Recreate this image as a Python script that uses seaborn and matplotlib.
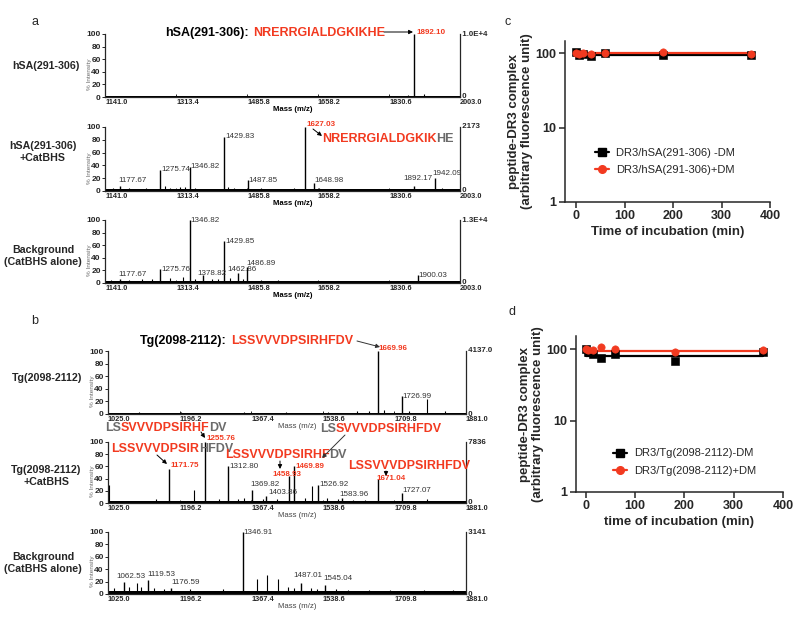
import numpy as np
import pandas as pd
import seaborn as sns
import matplotlib.pyplot as plt
import matplotlib.transforms as mtransforms
from matplotlib.lines import Line2D

sns.set_style("ticks")
plt.rcParams['font.family'] = ['Liberation Sans', 'DejaVu Sans']

RED = '#f23a20'
GREY = '#6b6b6b'
DARK = '#333333'

# ---------------- mass spectra data (m/z, % intensity) ----------------
a_range = (1141.0, 2003.0)
b_range = (1025.0, 1881.0)
a_ticks = [1141.0, 1313.4, 1485.8, 1658.2, 1830.6, 2003.0]
b_ticks = [1025.0, 1196.2, 1367.4, 1538.6, 1709.8, 1881.0]

# a: hSA(291-306) alone
a1_mz = [1892.10]
a1_int = [100]
a1_minor_mz = [1877, 1916]
a1_minor_int = [3, 4]

# a: hSA(291-306) + CatBHS
a2_mz = [1177.67, 1275.74, 1346.82, 1429.83, 1487.85, 1627.03, 1648.98, 1892.17, 1942.09]
a2_int = [8, 33, 38, 85, 17, 100, 12, 8, 20]
a2_minor_mz = [1160, 1200, 1240, 1287, 1300, 1323, 1335, 1360, 1440, 1455, 1520, 1560, 1600, 1660, 1740, 1960, 1985]
a2_minor_int = [5, 4, 5, 8, 5, 6, 6, 4, 7, 4, 4, 3, 4, 5, 3, 4, 3]

# a: background
a3_mz = [1177.67, 1275.76, 1346.82, 1378.82, 1429.85, 1462.86, 1486.89, 1900.03]
a3_int = [6, 22, 100, 12, 66, 16, 25, 12]
a3_minor_mz = [1155, 1200, 1230, 1255, 1300, 1330, 1360, 1400, 1415, 1445, 1475, 1520, 1560, 1620, 1700, 1820, 1960]
a3_minor_int = [4, 5, 6, 6, 8, 9, 6, 7, 6, 8, 6, 4, 4, 3, 3, 3, 3]

# b: Tg(2098-2112) alone
b1_mz = [1669.96, 1726.99]
b1_int = [100, 28]
b1_minor_mz = [1100, 1200, 1350, 1450, 1550, 1620, 1650, 1685, 1745, 1788, 1830]
b1_minor_int = [3, 3, 3, 3, 3, 4, 4, 6, 4, 24, 4]

# b: Tg(2098-2112) + CatBHS
b2_mz = [1171.75, 1255.76, 1312.80, 1369.82, 1403.86, 1458.93, 1469.89, 1526.92, 1583.96, 1671.04, 1727.07]
b2_int = [55, 100, 60, 22, 12, 45, 60, 30, 8, 40, 17]
b2_minor_mz = [1027, 1060, 1100, 1140, 1150, 1231, 1290, 1335, 1350, 1395, 1430, 1495, 1512, 1548, 1575, 1610, 1640, 1690, 1788, 1830]
b2_minor_int = [30, 4, 4, 6, 4, 22, 6, 6, 8, 6, 6, 9, 28, 8, 6, 5, 5, 4, 6, 3]

# b: background
b3_mz = [1062.53, 1119.53, 1176.59, 1346.91, 1487.01, 1545.04]
b3_int = [20, 22, 10, 100, 18, 15]
b3_minor_mz = [1040, 1075, 1094, 1105, 1135, 1160, 1220, 1300, 1381, 1406, 1432, 1455, 1470, 1510, 1525, 1570, 1600, 1650, 1700, 1780, 1850]
b3_minor_int = [10, 12, 18, 12, 10, 8, 8, 8, 25, 30, 25, 12, 10, 10, 8, 8, 6, 6, 6, 6, 6]

noise_levels = [1.0, 2.5, 2.5, 2.0, 3.0, 5.0]
scale_labels = ['1.0E+4', '2173', '1.3E+4', '4137.0', '7836', '3141']
red_labels = ['1892.10', '1627.03', '1669.96', '1171.75', '1255.76', '1458.93', '1469.89', '1671.04']
row_labels = ['hSA(291-306)', 'hSA(291-306)\n+CatBHS', 'Background\n(CatBHS alone)',
              'Tg(2098-2112)', 'Tg(2098-2112)\n+CatBHS', 'Background\n(CatBHS alone)']

# ---------------- DR3 complex time course ----------------
times = [0, 5, 15, 30, 60, 180, 360]
c_minus = [102, 93, 97, 90, 100, 94, 94]
c_plus = [100, 98, 101, 97, 101, 104, 98]
c_fit = [95, 99]
d_minus = [100, 91, 86, 74, 86, 69, 90]
d_plus = [100, 98, 98, 105, 101, 91, 98]
d_fit = [79, 95]

# ---------------- layout (pixels) ----------------
W, H = 800, 618
fig = plt.figure(figsize=(W / 100, H / 100), dpi=100)

def px_axes(l, t, r, b, **kw):
    return fig.add_axes([l / W, 1 - b / H, (r - l) / W, (b - t) / H], **kw)

# label offsets in pixels: (dx, dy_up, ha)
label_offsets = {
    '1177.67': (-2, 5, 'left'), '1627.03': (1, 2, 'left'), '1648.98': (0, 3, 'left'),
    '1892.17': (-11, 7, 'left'), '1942.09': (-3, 5, 'left'),
    '1346.82': (1, 0, 'left'), '1378.82': (-6, 2, 'left'), '1462.86': (-10, 3, 'left'),
    '1486.89': (-1, 4, 'left'), '1892.10': (2, 2, 'left'),
    '1669.96': (1, 3, 'left'), '1171.75': (1, 4, 'left'), '1255.76': (2, 3, 'left'),
    '1369.82': (-2, 5, 'left'), '1403.86': (2, 3, 'left'), '1458.93': (-2, 1, 'center'),
    '1583.96': (-2, 4, 'left'), '1671.04': (-2, 0, 'left'), '1727.07': (1, 2, 'left'),
    '1062.53': (-7, 5, 'left'), '1119.53': (0, 6, 'left'), '1176.59': (0, 5, 'left'),
    '1487.01': (-8, 7, 'left'), '1545.04': (-2, 6, 'left'),
}


def draw_spectrum(ax, xr, ticks, mz, inten, minor_mz, minor_int, noise, scale_label, bold_xlabel):
    ax.set_xlim(xr)
    ax.set_ylim(0, 100)
    ax.fill_between(list(xr), 0, noise, color='black', lw=0)
    ax.vlines(minor_mz, 0, minor_int, color='black', lw=0.8)
    ax.vlines(mz, 0, inten, color='black', lw=1.0)
    for m, i in zip(mz, inten):
        lab = f"{m:.2f}"
        dx, dy, ha = label_offsets.get(lab, (1, 0, 'left'))
        is_red = lab in red_labels
        ax.annotate(lab, xy=(m, i), xytext=(dx, dy), textcoords='offset pixels',
                    ha=ha, va='center', fontsize=5.8,
                    color=RED if is_red else DARK,
                    fontweight='bold' if is_red else 'normal', annotation_clip=False)
    sns.despine(ax=ax, top=True, right=False)
    for s in ['left', 'bottom', 'right']:
        ax.spines[s].set_linewidth(0.9)
    ax.set_yticks(range(0, 101, 20))
    ax.set_yticklabels([str(v) for v in range(0, 101, 20)], fontsize=6, fontweight='bold')
    ax.set_xticks(ticks)
    ax.set_xticklabels([f"{t:.1f}" for t in ticks], fontsize=5.3, fontweight='bold', ha='left')
    shift = mtransforms.ScaledTranslation(-3 / 100, 0, fig.dpi_scale_trans)
    for lbl in ax.get_xticklabels():
        lbl.set_transform(lbl.get_transform() + shift)
    ax.tick_params(axis='x', direction='in', length=2.5, width=0.7, pad=1.5)
    ax.tick_params(axis='y', direction='out', length=2, width=0.7, pad=1)
    ax.tick_params(axis='y', which='both', right=False)
    ax.set_ylabel('% Intensity', fontsize=4.6, color=GREY)
    # the % Intensity label sits close to the spine, below the "100" tick label
    box_w = ax.get_position().width * W
    ax.yaxis.set_label_coords(-13 / box_w, 0.36)
    ax.set_xlabel('Mass (m/z)', fontsize=5.6, fontweight='bold' if bold_xlabel else 'normal',
                  labelpad=1, color='black' if bold_xlabel else '#444444')
    ax.xaxis.set_label_coords(0.53, -0.14)
    ax.text(1.0, 1.0, ' ' + scale_label, transform=ax.transAxes, ha='left', va='center',
            fontsize=5.7, fontweight='bold')
    ax.text(1.0, 0.0, ' 0', transform=ax.transAxes, ha='left', va='center',
            fontsize=5.7, fontweight='bold')


spectra = [
    (a_range, a_ticks, a1_mz, a1_int, a1_minor_mz, a1_minor_int),
    (a_range, a_ticks, a2_mz, a2_int, a2_minor_mz, a2_minor_int),
    (a_range, a_ticks, a3_mz, a3_int, a3_minor_mz, a3_minor_int),
    (b_range, b_ticks, b1_mz, b1_int, b1_minor_mz, b1_minor_int),
    (b_range, b_ticks, b2_mz, b2_int, b2_minor_mz, b2_minor_int),
    (b_range, b_ticks, b3_mz, b3_int, b3_minor_mz, b3_minor_int),
]
boxes = [(105, 34, 460, 97), (105, 127, 460, 191), (105, 220, 460, 283),
         (108, 351, 466, 414), (108, 442, 466, 503), (108, 532, 466, 594)]
row_pos = [(46, 66), (43, 152), (43, 256), (47, 378), (46, 476), (43, 563)]

for k, (sp, box) in enumerate(zip(spectra, boxes)):
    ax = px_axes(*box)
    draw_spectrum(ax, *sp, noise_levels[k], scale_labels[k], bold_xlabel=(k < 3))

# ---------------- panels c and d ----------------
def draw_course(ax, t, minus, plus, fit, xlim, ylim, xlabel, labels, leg_anchor):
    ax.set_yscale('log')
    ends = [t[0], t[-1]]
    sns.lineplot(x=ends, y=[fit[0]] * 2, color='black', lw=1.6, ax=ax)
    sns.lineplot(x=ends, y=[fit[1]] * 2, color=RED, lw=1.6, ax=ax)
    sns.scatterplot(x=t, y=minus, marker='s', color='black', s=28, edgecolor='black', ax=ax, zorder=3)
    sns.scatterplot(x=t, y=plus, marker='o', color=RED, s=28, edgecolor=RED, ax=ax, zorder=4)
    ax.set_xlim(xlim)
    ax.set_ylim(ylim)
    ax.set_yticks([1, 10, 100])
    ax.set_yticklabels(['1', '10', '100'], fontsize=9, fontweight='bold')
    ax.yaxis.set_minor_locator(plt.NullLocator())
    ax.set_xticks([0, 100, 200, 300, 400])
    ax.set_xticklabels(['0', '100', '200', '300', '400'], fontsize=9, fontweight='bold')
    ax.tick_params(length=4, width=1.1, pad=2)
    sns.despine(ax=ax)
    for s in ['left', 'bottom']:
        ax.spines[s].set_linewidth(1.1)
    ax.set_xlabel(xlabel, fontsize=9.5, fontweight='bold', labelpad=3)
    ax.set_ylabel('peptide-DR3 complex\n(arbitrary fluorescence unit)', fontsize=9.5,
                  fontweight='bold', labelpad=2, linespacing=1.15)
    handles = [Line2D([0], [0], color='black', lw=1.6, marker='s', markersize=5.5),
               Line2D([0], [0], color=RED, lw=1.6, marker='o', markersize=5.5)]
    ax.legend(handles, labels, loc='upper left', bbox_to_anchor=leg_anchor, frameon=False,
              fontsize=8, handlelength=1.3, handletextpad=0.6, labelspacing=0.7,
              borderaxespad=0, borderpad=0)


axc = px_axes(565, 41, 770, 202)
draw_course(axc, times, c_minus, c_plus, c_fit, (-23, 400), (1, 145), 'Time of incubation (min)',
            ['DR3/hSA(291-306) -DM', 'DR3/hSA(291-306)+DM'], (0.146, 0.338))
axd = px_axes(576, 336, 783, 492)
draw_course(axd, times, d_minus, d_plus, d_fit, (-20, 400), (1, 152), 'time of incubation (min)',
            ['DR3/Tg(2098-2112)-DM', 'DR3/Tg(2098-2112)+DM'], (0.179, 0.279))

# ---------------- overlay: titles, sequences, arrows ----------------
ov = px_axes(0, 0, W, H, zorder=10)
ov.set_xlim(0, W)
ov.set_ylim(H, 0)
ov.axis('off')
ov.patch.set_visible(False)


def multi_text(x, y, parts, size=9):
    t = None
    for s, c, gap in parts:
        if t is None:
            t = ov.text(x, y, s, color=c, fontsize=size, fontweight='bold', ha='left', va='center')
        else:
            t = ov.annotate(s, xy=(1, 0), xycoords=t, xytext=(gap, 0), textcoords='offset pixels',
                            va='bottom', ha='left', color=c, fontsize=size, fontweight='bold')


def arrow(start, end, color='black'):
    ov.annotate('', xy=end, xytext=start,
                arrowprops=dict(arrowstyle='-|>', color=color, lw=0.7, mutation_scale=6,
                                shrinkA=0, shrinkB=0))


for lab, (x, y) in zip(row_labels, row_pos):
    ov.text(x, y, lab, ha='center', va='center', fontsize=7.7, fontweight='bold', linespacing=1.25)

for lab, (x, y) in zip(['a', 'b', 'c', 'd'], [(35, 22), (35, 321), (508, 22), (512, 312)]):
    ov.text(x, y, lab, ha='center', va='center', fontsize=9)

multi_text(165, 33, [('hSA(291-306):', 'black', 0), ('NRERRGIALDGKIKHE', RED, 4)])
arrow((384, 32), (413, 32))
multi_text(322, 139, [('NRERRGIALDGKIK', RED, 0), ('HE', GREY, 0)])
arrow((313, 129), (322, 136))

multi_text(140, 341, [('Tg(2098-2112):', 'black', 0), ('LSSVVVDPSIRHFDV', RED, 4)])
arrow((357, 341), (380, 347), color='#333333')

multi_text(105, 428, [('LS', GREY, 0), ('SVVVDPSIRHF', RED, 0), ('DV', GREY, 0)])
arrow((201, 432), (205, 438))
multi_text(111, 449, [('LSSVVVDPSIR', RED, 0), ('HFDV', GREY, 0)])
arrow((157, 455), (167, 464))
multi_text(225, 455, [('LSSVVVDPSIRHF', RED, 0), ('DV', GREY, 0)])
arrow((280, 461), (280, 469))
multi_text(320, 429, [('LS', GREY, 0), ('SVVVDPSIRHFDV', RED, 0)])
arrow((345, 435), (322, 458), color='#333333')
multi_text(348, 466, [('LSSVVVDPSIRHFDV', RED, 0)])
arrow((386, 471), (386, 476))

fig.savefig('out.png', dpi=100)
